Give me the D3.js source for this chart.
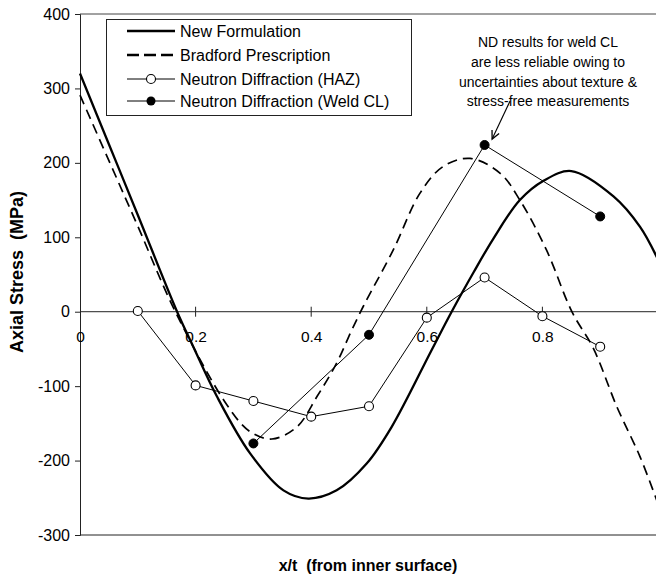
<!DOCTYPE html>
<html>
<head>
<meta charset="utf-8">
<script src="https://cdn.jsdelivr.net/npm/d3@7"></script>
<style>
  html, body { margin: 0; padding: 0; background: #fff; }
  svg { display: block; font-family: "Liberation Sans", Arial, Helvetica, sans-serif; }
  svg text { white-space: pre; }
</style>
</head>
<body>
<svg id="chart" width="656" height="582"></svg>
<script>
// ---- data ----
const newFormX = [0, 0.05, 0.1, 0.168, 0.196, 0.237, 0.294, 0.352, 0.395, 0.444, 0.496, 0.539, 0.608, 0.643, 0.681, 0.715, 0.761, 0.802, 0.85, 0.923, 0.969, 1.0];
const newFormY = [320, 225, 130, 0, -47, -114, -190, -240, -251, -240, -204, -155, -52, 0, 53, 98, 150, 176, 189, 155, 114, 70];

const bradfordX = [0, 0.05, 0.1, 0.165, 0.254, 0.294, 0.332, 0.375, 0.41, 0.444, 0.47, 0.49, 0.542, 0.588, 0.628, 0.675, 0.727, 0.761, 0.807, 0.851, 0.888, 0.929, 0.969, 1.0];
const bradfordY = [291, 203, 115, 0, -125, -161, -171, -155, -114, -69, -25, 7, 83, 159, 195, 206, 186, 150, 83, 0, -49, -128, -195, -258];

const hazX = [0.1, 0.2, 0.3, 0.4, 0.5, 0.6, 0.7, 0.8, 0.9];
const hazY = [1, -99, -120, -141, -127, -8, 46, -6, -47];

const weldX = [0.3, 0.5, 0.7, 0.9];
const weldY = [-177, -31, 224, 128];

const xTicks = [0, 0.2, 0.4, 0.6, 0.8];
const xTickLabels = ["0", "0.2", "0.4", "0.6", "0.8"];
const yTicks = [-300, -200, -100, 0, 100, 200, 300, 400];
const yTickLabels = ["-300", "-200", "-100", "0", "100", "200", "300", "400"];

const legendLabels = ["New Formulation", "Bradford Prescription", "Neutron Diffraction (HAZ)", "Neutron Diffraction (Weld CL)"];
const noteLines = ["ND results for weld CL", "are less reliable owing to", "uncertainties about texture &", "stress-free measurements"];
const arrowFrom = [0.744, 283];
const arrowTo = [0.713, 232];

const xTitle = "x/t  (from inner surface)";
const yTitle = "Axial Stress  (MPa)";

// ---- chart ----
const svg = d3.select("#chart");
const x = d3.scaleLinear().domain([0, 1]).range([80, 658]);
const y = d3.scaleLinear().domain([-300, 400]).range([535, 14]);

// frame lines
svg.append("line").attr("x1", x(0)).attr("x2", 656).attr("y1", y(400)).attr("y2", y(400))
  .attr("stroke", "#444").attr("stroke-width", 1);
svg.append("line").attr("x1", x(0)).attr("x2", 656).attr("y1", y(-300)).attr("y2", y(-300))
  .attr("stroke", "#222").attr("stroke-width", 1);

// y axis
const yAxis = d3.axisLeft(y).tickValues(yTicks).tickSize(5).tickPadding(5)
  .tickFormat((d, i) => yTickLabels[i]);
const gy = svg.append("g").attr("transform", `translate(${x(0)},0)`).call(yAxis);
gy.select(".domain").attr("stroke", "#222").attr("stroke-width", 1);
gy.selectAll(".tick line").attr("stroke", "#222");
gy.selectAll(".tick text").attr("font-size", 16).attr("fill", "#000")
  .attr("font-family", "Liberation Sans, Arial, sans-serif");

// x axis at zero
const xAxis = d3.axisBottom(x).tickValues(xTicks).tickSize(0).tickPadding(30)
  .tickFormat((d, i) => xTickLabels[i]);
const gx = svg.append("g").attr("transform", `translate(0,${y(0)})`).call(xAxis);
gx.select(".domain").remove();
gx.selectAll(".tick text").attr("font-size", 15.5).attr("fill", "#000").attr("dy", "0")
  .attr("font-family", "Liberation Sans, Arial, sans-serif");
svg.append("line").attr("x1", x(0)).attr("x2", 656).attr("y1", y(0)).attr("y2", y(0))
  .attr("stroke", "#222").attr("stroke-width", 1);
svg.append("g").selectAll("line").data(xTicks.filter(d => d > 0)).join("line")
  .attr("x1", d => x(d)).attr("x2", d => x(d))
  .attr("y1", y(0) - 5).attr("y2", y(0) + 5)
  .attr("stroke", "#222").attr("stroke-width", 1);

// curves
const curveData = (xs, ys) => xs.map((v, i) => [v, ys[i]]);
const lineSmooth = d3.line().x(d => x(d[0])).y(d => y(d[1])).curve(d3.curveCatmullRom.alpha(0.5));
const lineStraight = d3.line().x(d => x(d[0])).y(d => y(d[1]));

svg.append("path").datum(curveData(bradfordX, bradfordY))
  .attr("d", lineSmooth).attr("fill", "none").attr("stroke", "#000")
  .attr("stroke-width", 1.7).attr("stroke-dasharray", "10,6");

svg.append("path").datum(curveData(newFormX, newFormY))
  .attr("d", lineSmooth).attr("fill", "none").attr("stroke", "#000")
  .attr("stroke-width", 2.3);

const hazPts = curveData(hazX, hazY);
const weldPts = curveData(weldX, weldY);

svg.append("path").datum(hazPts).attr("d", lineStraight).attr("fill", "none")
  .attr("stroke", "#000").attr("stroke-width", 1);
svg.append("path").datum(weldPts).attr("d", lineStraight).attr("fill", "none")
  .attr("stroke", "#000").attr("stroke-width", 1);

svg.append("g").selectAll("circle").data(hazPts).join("circle")
  .attr("cx", d => x(d[0])).attr("cy", d => y(d[1])).attr("r", 4.5)
  .attr("fill", "#fff").attr("stroke", "#000").attr("stroke-width", 1.1);
svg.append("g").selectAll("circle").data(weldPts).join("circle")
  .attr("cx", d => x(d[0])).attr("cy", d => y(d[1])).attr("r", 4.5)
  .attr("fill", "#000").attr("stroke", "#000").attr("stroke-width", 1);

// legend
const lg = svg.append("g");
lg.append("rect").attr("x", 106.5).attr("y", 19.5).attr("width", 305).attr("height", 96)
  .attr("fill", "#fff").attr("stroke", "#222").attr("stroke-width", 1);
const legY = [31, 55, 79, 101];
legendLabels.forEach((lab, i) => {
  const yy = legY[i];
  const ln = lg.append("line").attr("x1", 127).attr("x2", 175).attr("y1", yy).attr("y2", yy)
    .attr("stroke", "#000");
  if (i === 0) ln.attr("stroke-width", 2.3);
  else if (i === 1) ln.attr("stroke-width", 2.3).attr("stroke-dasharray", "12,5");
  else ln.attr("stroke-width", 1);
  if (i === 2) lg.append("circle").attr("cx", 151).attr("cy", yy).attr("r", 4.5)
    .attr("fill", "#fff").attr("stroke", "#000").attr("stroke-width", 1.1);
  if (i === 3) lg.append("circle").attr("cx", 151).attr("cy", yy).attr("r", 4.5)
    .attr("fill", "#000");
  lg.append("text").attr("x", 180).attr("y", yy).attr("dy", "0.36em")
    .attr("font-size", 16).attr("fill", "#000").text(lab);
});

// annotation
const noteBase = [47, 67, 87, 106];
svg.append("g").selectAll("text").data(noteLines).join("text")
  .attr("x", 548).attr("y", (d, i) => noteBase[i]).attr("text-anchor", "middle")
  .attr("font-size", 14).attr("fill", "#000").text(d => d);

const ax1 = x(arrowFrom[0]), ay1 = y(arrowFrom[1]), ax2 = x(arrowTo[0]), ay2 = y(arrowTo[1]);
svg.append("line").attr("x1", ax1).attr("y1", ay1).attr("x2", ax2).attr("y2", ay2)
  .attr("stroke", "#000").attr("stroke-width", 1.1);
const ang = Math.atan2(ay2 - ay1, ax2 - ax1);
const hl = 9, ha = 0.45;
const head = [
  [ax2 - hl * Math.cos(ang - ha), ay2 - hl * Math.sin(ang - ha)],
  [ax2, ay2],
  [ax2 - hl * Math.cos(ang + ha), ay2 - hl * Math.sin(ang + ha)]
];
svg.append("path").attr("d", d3.line()(head)).attr("fill", "none")
  .attr("stroke", "#000").attr("stroke-width", 1.3);

// axis titles
svg.append("text").attr("x", 368).attr("y", 571).attr("text-anchor", "middle")
  .attr("font-size", 16).attr("font-weight", "bold").attr("fill", "#000").text(xTitle);
svg.append("text").attr("transform", "translate(23,272) rotate(-90)").attr("text-anchor", "middle")
  .attr("font-size", 18).attr("font-weight", "bold").attr("fill", "#000").text(yTitle);
</script>
</body>
</html>
